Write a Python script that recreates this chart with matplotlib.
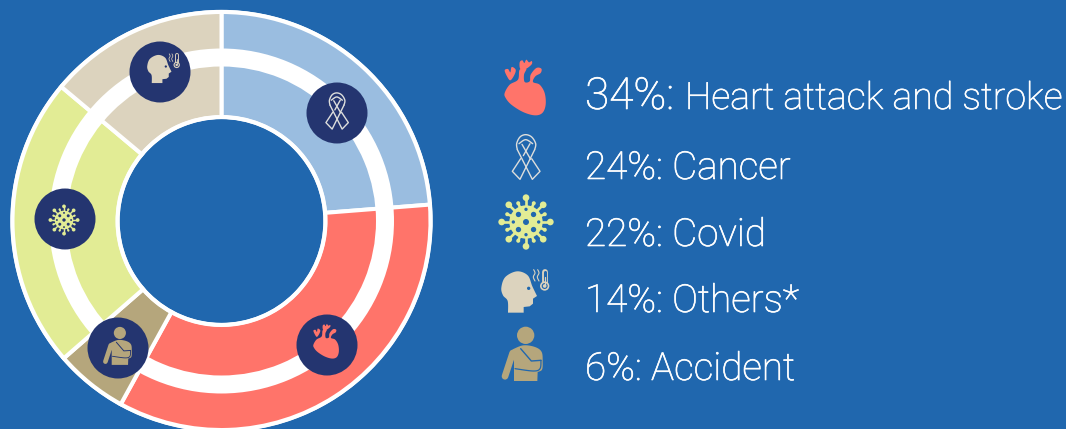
import matplotlib
matplotlib.use("Agg")
import numpy as np
import matplotlib.pyplot as plt
import matplotlib.patheffects as pe
from matplotlib.patches import Circle, Wedge, Polygon

W, H = 1066, 429
BG = "#2067AE"
NAVY = "#243570"
BLUE = "#9ABDE0"
RED = "#FF746A"
TAN = "#B5A67C"
GREEN = "#E2EC95"
BEIGE = "#DCD3BE"
RIBBON = "#DDDEDC"

# ring order, clockwise from 12 o'clock; shares as drawn in the picture
ring_names = ["Cancer", "Heart attack and stroke", "Accident", "Covid", "Others*"]
ring_values = [23.75, 34.25, 5.6, 22.5, 13.9]
ring_colors = [BLUE, RED, TAN, GREEN, BEIGE]

lead_pct = "34%:"
lead_name = "Heart attack and stroke"
legend_labels = ["24%: Cancer", "22%: Covid", "14%: Others*", "6%: Accident"]
legend_base = [179, 246, 312, 380]

FONT = "Roboto"
WEIGHT = "light"

fig = plt.figure(figsize=(W / 100, H / 100), dpi=100, facecolor=BG)
ax = fig.add_axes([0, 0, 1, 1], facecolor=BG)

CX, CY = 221.5, H - 221
ax.pie(ring_values, colors=ring_colors, startangle=90, counterclock=False,
       center=(CX, CY), radius=209, frame=True,
       wedgeprops=dict(width=105, edgecolor="white", linewidth=2.9))
ax.add_patch(Wedge((CX, CY), 172.5, 0, 360, width=18, fc="white", ec="none", zorder=3))
ax.add_patch(Circle((CX, CY), 209.5, fc="none", ec="white", lw=2.4, zorder=3))
ax.add_patch(Circle((CX, CY), 103.8, fc="none", ec="white", lw=2.8, zorder=3))
ax.set_xlim(0, W)
ax.set_ylim(0, H)
ax.set_aspect("auto")
ax.axis("off")

Z = 6


def xf(pts, c, at, s):
    p = (np.asarray(pts, float) - np.asarray(c, float)) / 3 * s
    return np.column_stack([at[0] + p[:, 0], H - (at[1] + p[:, 1])])


def curve(pts, closed=False, n=12):
    pts = np.asarray(pts, float)
    m = len(pts)
    out = []
    for i in range(m if closed else m - 1):
        if closed:
            p0, p1, p2, p3 = pts[(i - 1) % m], pts[i], pts[(i + 1) % m], pts[(i + 2) % m]
        else:
            p0, p1, p2, p3 = pts[max(i - 1, 0)], pts[i], pts[i + 1], pts[min(i + 2, m - 1)]
        for t in np.linspace(0, 1, n, endpoint=False):
            out.append(0.5 * (2 * p1 + (p2 - p0) * t + (2 * p0 - 5 * p1 + 4 * p2 - p3) * t ** 2
                              + (3 * p1 - p0 - 3 * p2 + p3) * t ** 3))
    if not closed:
        out.append(pts[-1])
    return np.array(out)


def fill(pts, c, at, s, color, z=Z + 1):
    ax.add_patch(Polygon(xf(pts, c, at, s), closed=True, fc=color, ec="none", zorder=z))


def line(pts, c, at, s, color, lw, z=Z + 2):
    q = xf(pts, c, at, s)
    ax.plot(q[:, 0], q[:, 1], color=color, lw=lw, zorder=z, solid_capstyle="round", solid_joinstyle="round")


def dot(p, r, c, at, s, color, z=Z + 2):
    q = xf([p], c, at, s)[0]
    ax.add_patch(Circle(q, r * s / 3, fc=color, ec="none", zorder=z))


def heart(at, s, color=RED):
    c = (106, 112)
    body = [(45, 130), (60, 105), (85, 90), (90, 60), (110, 57), (103, 75), (105, 97), (120, 95),
            (123, 75), (140, 55), (155, 57), (153, 70), (137, 80), (130, 97), (150, 105), (165, 130),
            (168, 165), (158, 190), (135, 197), (100, 187), (65, 165), (48, 145)]
    fill(curve(body, closed=True, n=6), c, at, s, color)
    fill(curve([(45, 62), (55, 58), (62, 68), (66, 52), (78, 60), (74, 76), (62, 92), (52, 80)], closed=True, n=6),
         c, at, s, color)
    fill(curve([(90, 38), (98, 32), (104, 40), (110, 30), (118, 38), (126, 34), (126, 44), (108, 58), (92, 58)],
               closed=True, n=6), c, at, s, color)


def ribbon(at, s, color=RIBBON, lw=1.0):
    c = (108, 320)
    line(curve([(82, 298), (80, 280), (90, 260), (107, 253), (125, 260), (137, 280), (134, 298)]), c, at, s, color, lw)
    line(curve([(87, 280), (107, 268), (128, 280)]), c, at, s, color, lw)
    line([(82, 298), (127, 387), (150, 363), (125, 325)], c, at, s, color, lw)
    line([(134, 298), (90, 387), (67, 363), (92, 325)], c, at, s, color, lw)
    line([(96, 282), (122, 327)], c, at, s, color, lw)
    line([(120, 280), (100, 316)], c, at, s, color, lw)


def virus(at, s, color=GREEN, hole=BG):
    c = (107, 517)
    for i in range(16):
        t = 2 * np.pi * i / 16
        big = i % 2 == 0
        r = 73 if big else 61
        e = (c[0] + r * np.cos(t), c[1] + r * np.sin(t))
        line([c, e], c, at, s, color, 1.9 * s, z=Z)
        dot(e, 10 if big else 6, c, at, s, color)
    dot(c, 50, c, at, s, color)
    dot(c, 9, c, at, s, hole)
    for i in range(8):
        t = np.pi / 4 * i + np.pi / 4
        rr, rad = (32, 8) if i % 2 == 0 else (38, 5)
        dot((c[0] + rr * np.cos(t), c[1] + rr * np.sin(t)), rad, c, at, s, hole)


def headicon(at, s, color=BEIGE, hole=BG):
    c = (107, 725)
    back = curve([(53, 787), (52, 752), (38, 735), (33, 712), (45, 680), (80, 663), (112, 675), (126, 708), (140, 737)])
    fill(np.vstack([back, [(128, 745), (128, 760), (118, 768), (100, 770), (100, 787)]]), c, at, s, color)
    dot((115, 714), 5, c, at, s, hole)
    line(curve([(130, 658), (134, 668), (129, 680), (134, 692)]), c, at, s, color, 0.8 * s)
    line(curve([(142, 658), (146, 668), (141, 680), (146, 692)]), c, at, s, color, 0.8 * s)
    line([(163, 665), (163, 700)], c, at, s, color, 4.2 * s)
    line([(163, 665), (163, 700)], c, at, s, hole, 2.2 * s)
    dot((163, 707), 14, c, at, s, color)
    dot((163, 707), 9, c, at, s, hole)
    dot((163, 707), 5.5, c, at, s, color)
    line([(163, 680), (163, 705)], c, at, s, color, 0.9 * s, z=Z + 3)


def arm(at, s, color=TAN, hole=BG):
    c = (99, 911)
    dot((107, 855), 26, c, at, s, color)
    fill(curve([(68, 897), (100, 885), (135, 890), (155, 905), (158, 935), (156, 958), (143, 965)]).tolist()
         + [(142, 992), (72, 992), (72, 930), (60, 925)], c, at, s, color)
    line([(68, 908), (45, 978)], c, at, s, color, 4.8 * s)
    line([(92, 895), (124, 932), (153, 930)], c, at, s, hole, 1.0 * s)
    line(curve([(153, 930), (150, 955), (130, 962), (75, 955)]), c, at, s, hole, 0.9 * s)


# navy badges on the ring
for x, y in [(337, 113), (327, 345), (118, 348), (65, 219), (160, 72)]:
    ax.add_patch(Circle((x, H - y), 30.5, fc=NAVY, ec="none", zorder=5))

ribbon((337, 111), 0.81)
heart((326, 341), 0.62)
arm((118, 346), 0.7, hole=NAVY)
virus((64, 220), 0.56, hole=NAVY)
headicon((164, 69), 0.68, hole=NAVY)

# legend icons
heart((525, 87), 1)
ribbon((526, 157), 1)
virus((526, 222), 1)
headicon((526, 292), 1)
arm((523, 354), 1)

tk = dict(color="white", family=FONT, fontweight=WEIGHT, va="baseline", ha="left", zorder=10,
          path_effects=[pe.withStroke(linewidth=0.45, foreground="white")])
ax.text(585, H - 109, lead_pct, fontsize=31.8, **tk)
ax.text(685, H - 109, lead_name, fontsize=27.0, **tk)
for lab, y in zip(legend_labels, legend_base):
    ax.text(585, H - y, lab, fontsize=27.8, **tk)

fig.savefig("out.png", dpi=100, facecolor=BG)
